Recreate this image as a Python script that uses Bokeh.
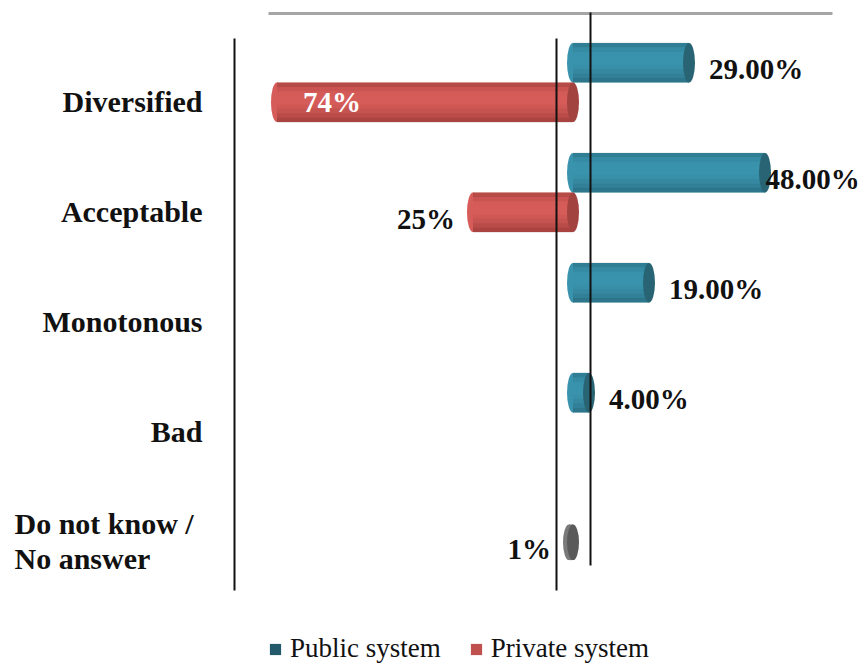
from bokeh.plotting import figure
from bokeh.models import Range1d, ColumnDataSource, Legend, LegendItem
from bokeh.core.properties import value
from bokeh.embed import file_html
from bokeh.resources import INLINE

# ---------------- data ----------------
categories = ["Diversified", "Acceptable", "Monotonous", "Bad", "Do not know /\nNo answer"]
public_categories = ["Diversified", "Acceptable", "Monotonous", "Bad"]
public_values = [29.0, 48.0, 19.0, 4.0]
private_categories = ["Diversified", "Acceptable", "Do not know /\nNo answer"]
private_values = [74.0, 25.0, 1.0]
series_names = ["Public system", "Private system"]

# ---------------- layout / style ----------------
W, H = 868, 664
PX_PER_PCT = 4.0
ORIGIN_PX = 572.5
ROW_PX = 110.0
ROW0_PX = 82.0
OFF = 0.18
BAR_H = 0.36
CAP_W = 3.0

TEAL, TEAL_DARK, TEAL_LEG = "#3a93ad", "#296475", "#235a6b"
RED, RED_DARK, RED_LEG = "#d65c59", "#a24340", "#c0504d"
GREY, GREY_DARK = "#7a7a7a", "#5a5a5a"
SERIF = value("Liberation Serif")
# shading profile (top -> bottom) of the cylinder: alpha of a dark overlay
SHADE = [0.30, 0.12, 0.02, 0.0, 0.0, 0.06, 0.16, 0.28, 0.42]


def xu(px):
    return (px - ORIGIN_PX) / PX_PER_PCT


def yu(px):
    return (px - ROW0_PX) / ROW_PX


p = figure(width=W, height=H, output_backend="svg", toolbar_location=None,
           x_range=Range1d(xu(0), xu(W)), y_range=Range1d(yu(H), yu(0)),
           x_axis_location=None, y_axis_location=None, min_border=0)
p.outline_line_color = None
p.xgrid.visible = False
p.ygrid.visible = False
p.background_fill_color = "white"
p.border_fill_color = "white"


def shade(ys, lefts, rights, color, h):
    n = len(SHADE)
    sh = h / n
    for i, a in enumerate(SHADE):
        if a <= 0:
            continue
        yy = [y - h / 2 + sh * (i + 0.5) for y in ys]
        p.hbar(y=yy, left=lefts, right=rights, height=sh * 1.02, fill_color=color, fill_alpha=a,
               line_color=None)


# ---------------- public bars ----------------
pub_y = [categories.index(c) - OFF for c in public_categories]
pub = ColumnDataSource(dict(
    y=pub_y,
    v=public_values,
    zero=[0.0] * len(public_values),
    lx=[min(v + 5.0, 48.1) for v in public_values],
    ly=[y + 0.06 for y in pub_y],
    label=[f"{v:.2f}%" for v in public_values],
))
p.ellipse(x="zero", y="y", width=CAP_W, height=BAR_H, fill_color=TEAL, line_color=None, source=pub)
p.hbar(y="y", left="zero", right="v", height=BAR_H, fill_color=TEAL, line_color=None, source=pub)
shade(pub_y, [0.0] * len(pub_y), public_values, "#1c4f5e", BAR_H)
p.ellipse(x="v", y="y", width=CAP_W, height=BAR_H, fill_color=TEAL_DARK, line_color=None, source=pub)

# ---------------- private bars ----------------
is_other = [c == categories[-1] for c in private_categories]
prv_y = [categories.index(c) + OFF for c in private_categories]
prv = ColumnDataSource(dict(
    y=prv_y,
    v=private_values,
    neg=[-v for v in private_values],
    zero=[0.0] * len(private_values),
    col=[GREY if o else RED for o in is_other],
    dark=[GREY_DARK if o else RED_DARK for o in is_other],
    h=[BAR_H * 0.9 if o else BAR_H for o in is_other],
    lx=[(-v + 6.5) if v > 50 else (-v - 4.5) for v in private_values],
    ly=[y + (0.0 if v > 50 else 0.06) for y, v in zip(prv_y, private_values)],
    align=["left" if v > 50 else "right" for v in private_values],
    tcol=["white" if v > 50 else "#111111" for v in private_values],
    label=[f"{v:.0f}%" for v in private_values],
))
p.ellipse(x="neg", y="y", width=CAP_W, height="h", fill_color="col", line_color=None, source=prv)
p.hbar(y="y", left="neg", right="zero", height="h", fill_color="col", line_color=None, source=prv)
red_rows = [i for i, o in enumerate(is_other) if not o]
shade([prv_y[i] for i in red_rows], [-private_values[i] for i in red_rows], [0.0] * len(red_rows),
      "#6e2422", BAR_H)
p.ellipse(x="zero", y="y", width=CAP_W, height="h", fill_color="dark", line_color=None, source=prv)

# frame lines (drawn over the bars, as in the original)
p.segment(x0=[xu(268)], y0=[yu(13)], x1=[xu(832)], y1=[yu(13)], line_color="#a6a6a6", line_width=3)
p.segment(x0=[xu(234), xu(556)], y0=[yu(38), yu(38)], x1=[xu(234), xu(556)], y1=[yu(590), yu(590)],
          line_color="#111111", line_width=2)
p.segment(x0=[xu(590)], y0=[yu(12)], x1=[xu(590)], y1=[yu(565)], line_color="#111111", line_width=2)

# value labels
p.text(x="lx", y="ly", text="label", source=pub, text_font=SERIF, text_font_style="bold",
       text_font_size="29px", text_align="left", text_baseline="middle", text_color="#111111")
p.text(x="lx", y="ly", text="label", source=prv, text_font=SERIF, text_font_style="bold",
       text_font_size="29px", text_align="align", text_baseline="middle", text_color="tcol")

# ---------------- category labels ----------------
cat = ColumnDataSource(dict(
    x=[xu(14) if "\n" in c else xu(202) for c in categories],
    y=[i + 0.17 for i in range(len(categories))],
    align=["left" if "\n" in c else "right" for c in categories],
    text=categories,
))
p.text(x="x", y="y", text="text", source=cat, text_font=SERIF, text_font_style="bold",
       text_font_size="30px", text_align="align", text_baseline="middle", text_color="#111111",
       text_line_height=1.05)

# ---------------- legend ----------------
off_x, off_y = [xu(-200)], [yu(-200)]
r_pub = p.rect(x=off_x, y=off_y, width=1, height=0.1, fill_color=TEAL_LEG, line_color=None)
r_prv = p.rect(x=off_x, y=off_y, width=1, height=0.1, fill_color=RED_LEG, line_color=None)
legend = Legend(items=[LegendItem(label=series_names[0], renderers=[r_pub]),
                       LegendItem(label=series_names[1], renderers=[r_prv])],
                orientation="horizontal", location=(268, 0), padding=0, margin=0,
                spacing=28, label_standoff=8, glyph_width=14, glyph_height=14,
                label_text_font="Liberation Serif", label_text_font_size="27px",
                label_text_color="#111111", border_line_alpha=0, background_fill_alpha=0)
p.add_layout(legend, "center")

open("out.html", "w").write(file_html(p, INLINE))
